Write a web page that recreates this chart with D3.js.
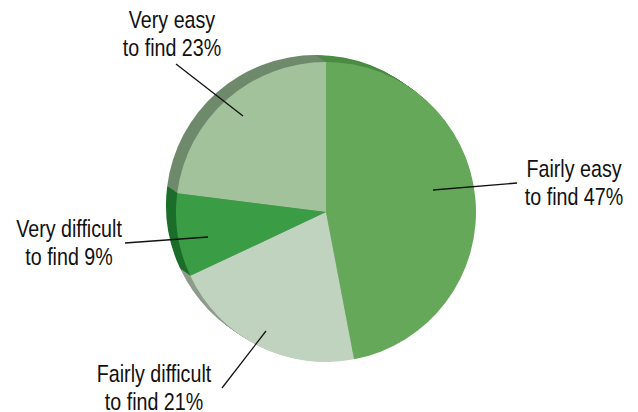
<!DOCTYPE html>
<html><head><meta charset="utf-8">
<script src="https://cdn.jsdelivr.net/npm/d3@7"></script>
<style>html,body{margin:0;padding:0;background:#fff;}svg{display:block;}</style>
</head><body>
<script>
const categories = ["Fairly easy to find", "Fairly difficult to find", "Very difficult to find", "Very easy to find"];
const values = [47, 21, 9, 23];
const labelLines = [["Fairly easy", "to find 47%"], ["Fairly difficult", "to find 21%"], ["Very difficult", "to find 9%"], ["Very easy", "to find 23%"]];
const topColors = ["#66a85a", "#c0d3be", "#3a9c45", "#a2c29b"];
const sideColors = ["#4c8c44", "#8e9c8c", "#1c6e2a", "#6f8a6c"];

const W = 638, H = 412;
const cx = 326, cy = 212, R = 150;
const off = [-10, -7];

const svg = d3.select("body").append("svg").attr("width", W).attr("height", H);
const pie = d3.pie().sort(null).value(d => d)(values);
const arc = d3.arc().innerRadius(0).outerRadius(R);

// side (extrusion)
const steps = 12;
for (let s = steps; s >= 1; s--) {
  const t = s / steps;
  svg.append("g").attr("transform", `translate(${cx + off[0] * t},${cy + off[1] * t})`)
    .selectAll("path").data(pie).join("path")
    .attr("d", arc).attr("fill", (d, i) => sideColors[i]);
}
// top face
svg.append("g").attr("transform", `translate(${cx},${cy})`)
  .selectAll("path").data(pie).join("path")
  .attr("d", arc).attr("fill", (d, i) => topColors[i]);

// labels
const labelPos = [
  {x: 574, y: 177, line: [[433, 190], [517, 183]]},
  {x: 154, y: 382, line: [[222, 388], [266, 331]]},
  {x: 69, y: 237, line: [[125, 243], [208, 237]]},
  {x: 172, y: 28, line: [[176, 64], [243, 116]]}
];
const fam = "'Liberation Sans Narrow','Liberation Sans',Arial,sans-serif";
const sx = 0.82;
labelLines.forEach((lines, i) => {
  const p = labelPos[i];
  svg.append("line").attr("x1", p.line[0][0]).attr("y1", p.line[0][1])
    .attr("x2", p.line[1][0]).attr("y2", p.line[1][1])
    .attr("stroke", "#111").attr("stroke-width", 1.3);
  const tx = svg.append("text")
    .attr("transform", `translate(${p.x},${p.y}) scale(${sx},1)`)
    .attr("text-anchor", "middle").attr("font-family", fam)
    .attr("font-size", 24).attr("fill", "#111");
  lines.forEach((l, j) => tx.append("tspan").attr("x", 0).attr("y", j * 28.5).text(l));
});
</script>
</body></html>
